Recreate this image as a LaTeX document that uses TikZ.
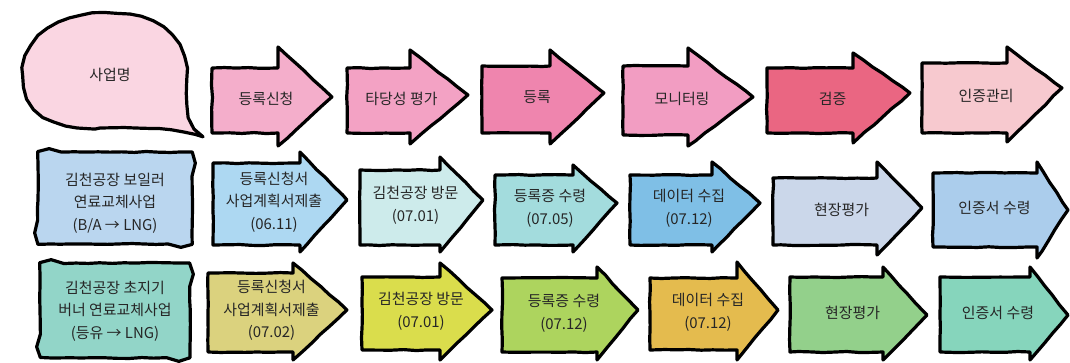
\documentclass[tikz,border=0pt]{standalone}
\usepackage{fontspec}
\setmainfont{Noto Sans CJK KR}
\usepackage{tikz}
\usetikzlibrary{decorations.pathmorphing}
\definecolor{bubblePink}{HTML}{FAD6E2}
\definecolor{pinkA}{HTML}{F4AECB}
\definecolor{pinkB}{HTML}{F3A2C4}
\definecolor{pinkC}{HTML}{EF85AE}
\definecolor{pinkD}{HTML}{F29DC2}
\definecolor{pinkE}{HTML}{EA6682}
\definecolor{pinkF}{HTML}{F7C9CF}
\definecolor{blueBox}{HTML}{BAD6EF}
\definecolor{blueA}{HTML}{ADD8F2}
\definecolor{blueB}{HTML}{CDEBEB}
\definecolor{blueC}{HTML}{A3DCDD}
\definecolor{blueD}{HTML}{7FBFE6}
\definecolor{blueE}{HTML}{CBD7EA}
\definecolor{blueF}{HTML}{ABCDEC}
\definecolor{greenBox}{HTML}{92D5C8}
\definecolor{greenA}{HTML}{DBD27E}
\definecolor{greenB}{HTML}{DADD4C}
\definecolor{greenC}{HTML}{ADD45E}
\definecolor{greenD}{HTML}{E4BB4E}
\definecolor{greenE}{HTML}{93D08B}
\definecolor{greenF}{HTML}{86D5BC}

\begin{document}
\begin{tikzpicture}[x=0.75pt, y=-0.75pt, font=\fontsize{11.2}{17}\selectfont,
  sketch/.style={draw=black, line width=2.4pt, line join=round, decorate,
    decoration={random steps, segment length=9pt, amplitude=0.4pt}},
  label/.style={align=center, inner sep=0pt, text=black!85}]
  \useasboundingbox (0,0) rectangle (1070,362);
  \pgfmathsetseed{3}

  % Speech bubble
  \filldraw[sketch, fill=bubblePink] (100,128) .. controls (140,128) and (170,126) .. (203,137)
    .. controls (190,125) and (187,115) .. (187,80)
    .. controls (187,30) and (150,13) .. (105,13) .. controls (55,13) and (23,40) .. (23,75)
    .. controls (23,110) and (50,128) .. (95,128) -- cycle;
  \node[label] (project) at (110,75) {사업명};

  % Project boxes
  \filldraw[sketch, fill=blueBox] (38,200) -- (38,164) .. controls (38,152) .. (50,152) -- (180,152)
    .. controls (192,152) .. (192,164) -- (192,232) .. controls (192,244) .. (180,244) -- (50,244)
    .. controls (38,244) .. (38,232) -- cycle;
  \node[label] (boiler) at (115,203) {김천공장 보일러\\연료교체사업\\(B/A → LNG)};

  \filldraw[sketch, fill=greenBox] (40,310) -- (40,275) .. controls (40,263) .. (52,263) -- (178,263)
    .. controls (190,263) .. (190,275) -- (190,346) .. controls (190,358) .. (178,358) -- (52,358)
    .. controls (40,358) .. (40,346) -- cycle;
  \node[label] (burner) at (115,311) {김천공장 초지기\\버너 연료교체사업\\(등유 → LNG)};

  % Process arrows
  \foreach \nm/\xl/\xh/\xt/\yc/\yt/\yb/\ya/\yz/\col/\txt in {
      apply/212/278/332/97/68/133/47/146/pinkA/등록신청,
      valid/347/410/468/95/68/133/50/144/pinkB/타당성 평가,
      regist/482/550/604/93/66/133/50/144/pinkC/등록,
      monitor/623/688/753/97/66/135/48/146/pinkD/모니터링,
      verify/767/853/910/93/68/133/53/143/pinkE/검증,
      certify/922/1007/1062/88/63/133/47/142/pinkF/인증관리,
      applyA/213/300/347/200/163/245/152/252/blueA/{등록신청서\\사업계획서제출\\(06.11)},
      visitA/360/440/483/200/170/245/157/252/blueB/{김천공장 방문\\(07.01)},
      receiveA/495/573/617/203/175/245/165/252/blueC/{등록증 수령\\(07.05)},
      dataA/630/712/760/203/175/245/162/252/blueD/{데이터 수집\\(07.12)},
      siteA/773/877/922/208/178/245/162/255/blueE/현장평가,
      certA/933/1037/1068/210/173/247/162/258/blueF/인증서 수령,
      applyB/208/293/347/310/273/352/263/360/greenA/{등록신청서\\사업계획서제출\\(07.02)},
      visitB/362/440/492/310/277/350/263/360/greenB/{김천공장 방문\\(07.01)},
      receiveB/502/597/638/310/278/352/267/360/greenC/{등록증 수령\\(07.12)},
      dataB/650/737/778/310/278/350/262/360/greenD/{데이터 수집\\(07.12)},
      siteB/790/883/927/315/277/352/267/360/greenE/현장평가,
      certB/940/1030/1068/315/277/352/267/360/greenF/인증서 수령}{
    \pgfmathsetmacro\tx{(\xl+\xt)/2-6}
    \pgfmathsetmacro\ty{(\yt+\yb)/2-2}
    \filldraw[sketch, fill=\col] (\xl,\yt) -- (\xh,\yt) -- (\xh,\ya) -- (\xt,\yc)
      -- (\xh,\yz) -- (\xh,\yb) -- (\xl,\yb) -- cycle;
    \node[label] (\nm) at (\tx,\ty) {\txt};
  }
\end{tikzpicture}
\end{document}
